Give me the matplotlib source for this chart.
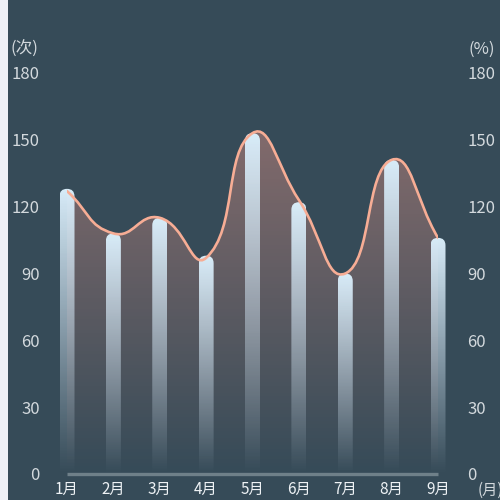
import numpy as np
import matplotlib
matplotlib.use("Agg")
import matplotlib.pyplot as plt
from matplotlib.path import Path
from matplotlib.patches import PathPatch, FancyBboxPatch, Rectangle
from matplotlib.colors import LinearSegmentedColormap

plt.rcParams['font.family'] = ['Noto Sans CJK SC', 'DejaVu Sans']

months = ["1月", "2月", "3月", "4月", "5月", "6月", "7月", "8月", "9月"]
counts = [128, 108, 115, 98, 153, 122, 90, 141, 106]     # bars (次)
rates = [127, 108, 115, 97, 153, 123, 90, 141, 106]      # line (%)
yticks = [0, 30, 60, 90, 120, 150, 180]

bg = '#364b58'
txt = '#d3d9dd'

fig = plt.figure(figsize=(5, 5), dpi=100, facecolor='#eef0f6')
fig.patches.append(Rectangle((8 / 500, 0), 1, 1, transform=fig.transFigure,
                             facecolor=bg, edgecolor='none', zorder=-10))
ax = fig.add_axes([67 / 500, 26 / 500, 371 / 500, 401 / 500])
ax.set_facecolor('none')
x = np.arange(len(months))
ax.set_xlim(0, len(months) - 1)
ax.set_ylim(0, 180)

# smooth line path (echarts-like bezier), computed in pixel space
fig.canvas.draw()
pts = ax.transData.transform(np.column_stack([x, rates]))
smooth = 0.5
verts = [tuple(pts[0])]
codes = [Path.MOVETO]
n = len(pts)
cps = []
for i in range(n):
    prev = pts[max(i - 1, 0)]
    nxt = pts[min(i + 1, n - 1)]
    cur = pts[i]
    v = (nxt - prev) * smooth
    lp = np.hypot(*(cur - prev))
    ln = np.hypot(*(nxt - cur))
    r = ln / (ln + lp) if (ln + lp) > 0 else 0.5
    cps.append((cur - v * (1 - r), cur + v * r))
for i in range(1, n):
    verts += [tuple(cps[i - 1][1]), tuple(cps[i][0]), tuple(pts[i])]
    codes += [Path.CURVE4] * 3
inv = ax.transData.inverted()
dverts = inv.transform(np.array(verts))
line_path = Path(dverts, codes)

# area under line with gradient
area_verts = list(dverts) + [(x[-1], 0), (x[0], 0), tuple(dverts[0])]
area_codes = codes + [Path.LINETO, Path.LINETO, Path.CLOSEPOLY]
area_patch = PathPatch(Path(area_verts, area_codes), facecolor='none', edgecolor='none')
ax.add_patch(area_patch)
acmap = LinearSegmentedColormap.from_list('a', [(1, 0.62, 0.55, 0.0), (1, 0.62, 0.55, 0.38)])
grad = np.linspace(0, 1, 256).reshape(-1, 1)
im = ax.imshow(grad, cmap=acmap, extent=[0, len(months) - 1, 0, max(rates)], origin='lower',
               aspect='auto', zorder=1, interpolation='bicubic')
im.set_clip_path(area_patch)

# gradient bars with rounded tops
bw = 15 / (371 / 8)
ry = (15 / 2) / (401 / 180)
bcmap = LinearSegmentedColormap.from_list('b', [(0.84, 0.92, 0.98, 0.0), (0.84, 0.92, 0.98, 0.5),
                                                (0.85, 0.93, 0.98, 1.0)])
for i, v in enumerate(counts):
    box = FancyBboxPatch((i - bw / 2, -20), bw, v + 20,
                         boxstyle="round,pad=0,rounding_size=%f" % (bw / 2),
                         mutation_aspect=ry / (bw / 2),
                         facecolor='none', edgecolor='none')
    ax.add_patch(box)
    bim = ax.imshow(grad, cmap=bcmap, extent=[i - bw / 2, i + bw / 2, 0, v], origin='lower',
                    aspect='auto', zorder=2, interpolation='bicubic')
    bim.set_clip_path(box)
    bim.set_clip_box(fig.bbox)

ax.add_patch(PathPatch(line_path, facecolor='none', edgecolor='#f7ad95', lw=1.9, zorder=3,
                       capstyle='round'))
ax.set_xlim(0, len(months) - 1)
ax.set_ylim(0, 180)

for s in ['top', 'left', 'right']:
    ax.spines[s].set_visible(False)
ax.spines['bottom'].set_color('#6f8089')
ax.spines['bottom'].set_linewidth(2.4)
ax.spines['bottom'].set_capstyle('butt')
ax.spines['bottom'].set_zorder(4)

ax.set_xticks(x)
ax.set_xticklabels(months, color='#eef2f5', fontsize=11)
ax.tick_params(axis='x', length=0, pad=5)
ax.set_yticks(yticks)
ax.set_yticklabels([str(t) for t in yticks], color=txt, fontsize=12)
ax.tick_params(axis='y', length=0, pad=19.5)

ax2 = ax.twinx()
ax2.set_ylim(0, 180)
ax2.set_yticks(yticks)
ax2.set_yticklabels([str(t) for t in yticks], color=txt, fontsize=12)
ax2.tick_params(axis='y', length=0, pad=21)
for s in ['top', 'left', 'right', 'bottom']:
    ax2.spines[s].set_visible(False)

fig.text(10 / 500, 1 - 49 / 500, "(次)", color=txt, fontsize=12, ha='left', va='center')
fig.text(468 / 500, 1 - 49 / 500, "(%)", color=txt, fontsize=12, ha='left', va='center')
fig.text(478 / 500, 1 - 490 / 500, "(月)", color=txt, fontsize=11, ha='left', va='center')

fig.savefig("out.png", dpi=100, facecolor=fig.get_facecolor())
